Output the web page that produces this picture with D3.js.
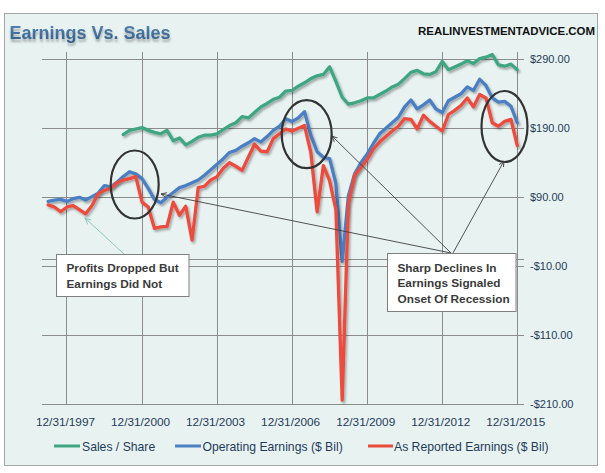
<!DOCTYPE html>
<html><head><meta charset="utf-8">
<script src="https://cdn.jsdelivr.net/npm/d3@7"></script>
<style>body{margin:0;background:#fff}svg{display:block}</style>
</head><body>
<svg id="chart" width="605" height="473"></svg>
<script>
// ---------- DATA ----------
const quarters = [
"3/31/1997","6/30/1997","9/30/1997","12/31/1997","3/31/1998","6/30/1998","9/30/1998","12/31/1998",
"3/31/1999","6/30/1999","9/30/1999","12/31/1999","3/31/2000","6/30/2000","9/30/2000","12/31/2000",
"3/31/2001","6/30/2001","9/30/2001","12/31/2001","3/31/2002","6/30/2002","9/30/2002","12/31/2002",
"3/31/2003","6/30/2003","9/30/2003","12/31/2003","3/31/2004","6/30/2004","9/30/2004","12/31/2004",
"3/31/2005","6/30/2005","9/30/2005","12/31/2005","3/31/2006","6/30/2006","9/30/2006","12/31/2006",
"3/31/2007","6/30/2007","9/30/2007","12/31/2007","3/31/2008","6/30/2008","9/30/2008","12/31/2008",
"3/31/2009","6/30/2009","9/30/2009","12/31/2009","3/31/2010","6/30/2010","9/30/2010","12/31/2010",
"3/31/2011","6/30/2011","9/30/2011","12/31/2011","3/31/2012","6/30/2012","9/30/2012","12/31/2012",
"3/31/2013","6/30/2013","9/30/2013","12/31/2013","3/31/2014","6/30/2014","9/30/2014","12/31/2014",
"3/31/2015","6/30/2015","9/30/2015","12/31/2015"];

const salesPerShare = [
null,null,null,null,null,null,null,null,null,null,null,null,
181,187,189,191,187,184,182,187,
172,176,166,171,177,180,180,182,
188,194,198,207,205,213,221,226,
232,235,244,245,251,256,262,266,
268,279,258,235,225,227,230,234,
234,239,244,250,254,262,271,274,
269,268,272,287,275,279,283,288,
284,291,293,297,282,280,283,275];

const operatingEarnings = [
84,86,87,84,88,90,86,91,
96,107,105,112,120,127,124,117,
103,87,82,90,97,104,107,111,
115,122,130,138,146,155,158,164,
169,175,170,178,187,193,204,200,
205,214,180,156,148,146,110,-3,
92,124,140,153,168,182,190,198,
206,221,231,218,224,231,218,213,
230,235,240,250,245,261,252,234,
228,229,222,198];

const reportedEarnings = [
79,76,69,76,78,72,66,78,
95,100,103,111,115,117,120,83,
76,45,47,48,83,64,77,28,
104,106,115,120,132,140,135,129,
148,167,157,156,175,182,189,186,
190,194,155,69,136,114,72,-204,
80,122,133,145,160,170,178,186,
193,204,203,189,209,200,193,186,
210,216,223,234,221,239,234,198,
193,200,203,165];

const xTickLabels = ["12/31/1997","12/31/2000","12/31/2003","12/31/2006","12/31/2009","12/31/2012","12/31/2015"];
const yTickValues = [290,190,90,-10,-110,-210];
const seriesNames = ["Sales / Share","Operating Earnings ($ Bil)","As Reported Earnings ($ Bil)"];
const seriesColors = ["#3FA681","#4C7FC4","#EC4B3C"];
const titleText = "Earnings Vs. Sales";
const sourceText = "REALINVESTMENTADVICE.COM";
const noteLeft = ["Profits Dropped But","Earnings Did Not"];
const noteRight = ["Sharp Declines In","Earnings Signaled","Onset Of Recession"];

// ---------- SETUP ----------
const parse = d3.timeParse("%m/%d/%Y");
const fmt = d3.timeFormat("%m/%d/%Y");
const dates = quarters.map(parse);
const svg = d3.select("#chart");
const plot = {left:42, right:523.5, top:52.4, bottom:404.3};

const x = d3.scaleTime()
  .domain([new Date(1996,11,31), new Date(2016,2,31)])
  .range([plot.left, plot.right]);
const y = d3.scaleLinear().domain([-210, 300]).range([plot.bottom, plot.top]);

const defs = svg.append("defs");
const f = defs.append("filter").attr("id","sh").attr("x","-5%").attr("y","-5%").attr("width","115%").attr("height","120%");
f.append("feDropShadow").attr("dx",1.5).attr("dy",2).attr("stdDeviation",1.2)
  .attr("flood-color","#000").attr("flood-opacity",0.32);
const ft = defs.append("filter").attr("id","tsh").attr("x","-5%").attr("y","-20%").attr("width","115%").attr("height","160%");
ft.append("feDropShadow").attr("dx",0.5).attr("dy",3).attr("stdDeviation",1.3)
  .attr("flood-color","#555").attr("flood-opacity",0.45);
const tg = defs.append("linearGradient").attr("id","tgrad").attr("x1",0).attr("y1",0).attr("x2",0).attr("y2",1);
tg.append("stop").attr("offset","0%").attr("stop-color","#5A88B5");
tg.append("stop").attr("offset","100%").attr("stop-color","#2E5D8C");
defs.append("marker").attr("id","arr").attr("viewBox","0 0 10 10").attr("refX",9).attr("refY",5)
  .attr("markerWidth",7).attr("markerHeight",7).attr("orient","auto")
  .append("path").attr("d","M0,1 L9,5 L0,9").attr("fill","none").attr("stroke","#404040").attr("stroke-width",1.4);
defs.append("marker").attr("id","arrT").attr("viewBox","0 0 10 10").attr("refX",9).attr("refY",5)
  .attr("markerWidth",7).attr("markerHeight",7).attr("orient","auto")
  .append("path").attr("d","M0,1 L9,5 L0,9").attr("fill","none").attr("stroke","#8DC8BE").attr("stroke-width",1.4);

// background frame
svg.append("rect").attr("x",4.5).attr("y",13.5).attr("width",593).attr("height",452)
  .attr("fill","#E8F3F1").attr("stroke","#A5A5A5").attr("stroke-width",1);

// title + source
svg.append("text").attr("x",9.5).attr("y",39).text(titleText)
  .attr("font-family","Liberation Sans, Arial, sans-serif").attr("font-weight","bold")
  .attr("font-size",18.5).attr("fill","url(#tgrad)").attr("filter","url(#tsh)")
  .attr("textLength",161).attr("lengthAdjust","spacingAndGlyphs");
svg.append("text").attr("x",418).attr("y",34.5).text(sourceText)
  .attr("font-family","Liberation Sans, Arial, sans-serif").attr("font-weight","bold")
  .attr("font-size",11.4).attr("fill","#111")
  .attr("textLength",177).attr("lengthAdjust","spacingAndGlyphs");

// gridlines
const grid = svg.append("g").attr("stroke","#8C8C8C").attr("stroke-width",1).attr("shape-rendering","crispEdges");
const tickDates = xTickLabels.map(parse);
grid.selectAll(".v").data(tickDates).join("line")
  .attr("x1",d=>x(d)).attr("x2",d=>x(d)).attr("y1",plot.top).attr("y2",plot.bottom);
grid.selectAll(".h").data(yTickValues).join("line")
  .attr("x1",plot.left).attr("x2",plot.right).attr("y1",d=>y(d)).attr("y2",d=>y(d));
grid.append("line").attr("x1",plot.left).attr("x2",plot.right).attr("y1",y(0)).attr("y2",y(0));

// axes (labels only)
const axisFont = "Liberation Sans, Arial, sans-serif";
const xAxis = svg.append("g").attr("transform",`translate(0,${plot.bottom})`)
  .call(d3.axisBottom(x).tickValues(tickDates).tickFormat(fmt).tickSize(0).tickPadding(13.3));
xAxis.select(".domain").remove();
xAxis.selectAll("text").attr("font-family",axisFont).attr("font-size",11.8).attr("fill","#1F3B5C").attr("dx",-2);

const yFmt = v => (v < 0 ? "-" : "") + "$" + d3.format(".2f")(Math.abs(v));
const yAxis = svg.append("g").attr("transform","translate(530,0)")
  .call(d3.axisRight(y).tickValues(yTickValues).tickFormat(yFmt).tickSize(0).tickPadding(0));
yAxis.select(".domain").remove();
yAxis.selectAll("text").attr("font-family",axisFont).attr("font-size",11).attr("fill","#1F3B5C");

// series
const series = [salesPerShare, operatingEarnings, reportedEarnings].map((vals,i)=>({
  name: seriesNames[i], color: seriesColors[i],
  points: vals.map((v,j)=>({date:dates[j], v:v}))
}));
const line = d3.line().defined(d=>d.v!=null).x(d=>x(d.date)).y(d=>y(d.v));
svg.append("g").selectAll("path").data(series).join("path")
  .attr("d",d=>line(d.points)).attr("fill","none").attr("stroke",d=>d.color)
  .attr("stroke-width",3.3).attr("stroke-linejoin","round").attr("stroke-linecap","round")
  .attr("filter","url(#sh)");

// ellipses
const ell = svg.append("g").attr("fill","none").attr("stroke","#333").attr("stroke-width",2.2);
[[134.7,184.5,24,34],[306.7,134.2,25,34],[504.5,126.5,23,35.5]].forEach(e=>{
  ell.append("ellipse").attr("cx",e[0]).attr("cy",e[1]).attr("rx",e[2]).attr("ry",e[3]);
});

// arrows
const arr = svg.append("g").attr("stroke","#404040").attr("stroke-width",0.9).attr("fill","none");
[[451,253,161,194],[451,253,332,136],[453,253,504,161]].forEach(a=>{
  arr.append("line").attr("x1",a[0]).attr("y1",a[1]).attr("x2",a[2]).attr("y2",a[3]).attr("marker-end","url(#arr)");
});
svg.append("line").attr("x1",124).attr("y1",254).attr("x2",85).attr("y2",218)
  .attr("stroke","#8DC8BE").attr("stroke-width",1).attr("marker-end","url(#arrT)");

// note boxes
function noteBox(x0,y0,w,h,lines,tx,ty,lh){
  const g = svg.append("g");
  g.append("rect").attr("x",x0).attr("y",y0).attr("width",w).attr("height",h)
    .attr("fill","#fff").attr("stroke","#7F7F7F").attr("stroke-width",1);
  lines.forEach((t,i)=>{
    g.append("text").attr("x",tx).attr("y",ty+i*lh).text(t)
      .attr("font-family",axisFont).attr("font-weight","bold").attr("font-size",11.8).attr("fill","#3A3A3A");
  });
}
noteBox(56.5,254.5,132.5,42,noteLeft,66.5,271.5,16);
noteBox(387.5,253.5,128.5,58,noteRight,397.5,271.5,15.5);

// legend
const legItems = [
  {lx:[54,80], tx:82},
  {lx:[175,201], tx:202.5},
  {lx:[368,393], tx:394}
];
const leg = svg.append("g");
series.forEach((s,i)=>{
  const it = legItems[i];
  leg.append("line").attr("x1",it.lx[0]).attr("x2",it.lx[1]).attr("y1",446).attr("y2",446)
    .attr("stroke",s.color).attr("stroke-width",3);
  leg.append("text").attr("x",it.tx).attr("y",450.5).text(s.name)
    .attr("font-family",axisFont).attr("font-size",12.2).attr("fill","#1F3B5C");
});
</script>
</body></html>
